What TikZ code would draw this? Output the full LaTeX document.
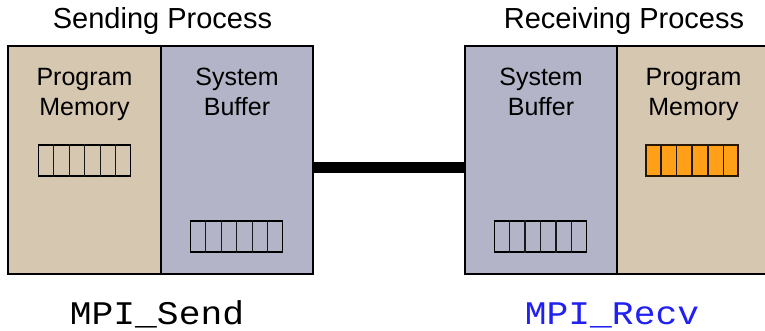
\documentclass[tikz,border=0pt]{standalone}
\usepackage{fontspec}
\setmainfont{Liberation Sans}
\newfontfamily\codefont[FakeStretch=1.1]{Liberation Mono}
\usetikzlibrary{calc}
\definecolor{memtan}{RGB}{214,200,176}
\definecolor{buflav}{RGB}{180,180,200}
\definecolor{cellorange}{RGB}{255,160,24}
\definecolor{recvblue}{RGB}{32,32,240}
\tikzset{
  half/.style={draw=black, line width=1.5pt, inner sep=0pt, minimum width=#1, minimum height=228pt},
  lbl/.style={anchor=north, inner sep=0pt, align=center, font=\fontsize{25}{30}\selectfont},
  title/.style={anchor=base, inner sep=0pt, font=\fontsize{29}{34}\selectfont},
  code/.style={anchor=base, inner sep=0pt, font=\codefont\fontsize{33}{36}\selectfont},
  cellarr/.style={draw=black, line width=1.2pt, inner sep=0pt, minimum width=92pt, minimum height=31pt},
  link/.style={line width=11pt, draw=black}
}
\begin{document}
\begin{tikzpicture}[x=1pt,y=1pt]
\useasboundingbox (0,0) rectangle (765,331);
\clip (0,0) rectangle (765,331);
% boxes
\node[half=153pt, fill=memtan] (sendmem) at (84.5,171) {};
\node[half=152pt, fill=buflav] (sendbuf) at (237,171) {};
\node[half=152pt, fill=buflav] (recvbuf) at (541,171) {};
\node[half=153pt, fill=memtan] (recvmem) at (693.5,171) {};
% connector
\coordinate (la) at ($(sendbuf.east)+(0,-7.5)$);
\coordinate (lb) at ($(recvbuf.west)+(0,-7.5)$);
\draw[link] (la) -- (lb);
% labels
\node[lbl] (t1) at (84.5,263) {Program\\Memory};
\node[lbl] (t2) at (237,263) {System\\Buffer};
\node[lbl] (t3) at (541,263) {System\\Buffer};
\node[lbl] (t4) at (693.5,263) {Program\\Memory};
% arrays
\node[cellarr] (a1) at (84.7,170.5) {};
\node[cellarr] (a2) at (236.7,94.5) {};
\node[cellarr] (a3) at (540.5,94.5) {};
\node[cellarr, fill=cellorange, draw=black!85!cellorange, line width=1.6pt] (a4) at (692.2,170.5) {};
\foreach \a/\w in {a1/1.2pt,a2/1.2pt,a3/1.2pt,a4/1.6pt}{
  \foreach \i in {1,...,5}{
    \draw[line width=\w, black!90] ($(\a.south west)!\i/6!(\a.south east)$) -- ($(\a.north west)!\i/6!(\a.north east)$);
  }
}
% titles
\node[title] (st) at (162.5,302.7) {Sending Process};
\node[title] (rt) at (624,302.7) {Receiving Process};
% code labels
\node[code] (cs) at (157,6.7) {MPI\_Send};
\node[code, text=recvblue] (cr) at (612,6.7) {MPI\_Recv};
\end{tikzpicture}
\end{document}
